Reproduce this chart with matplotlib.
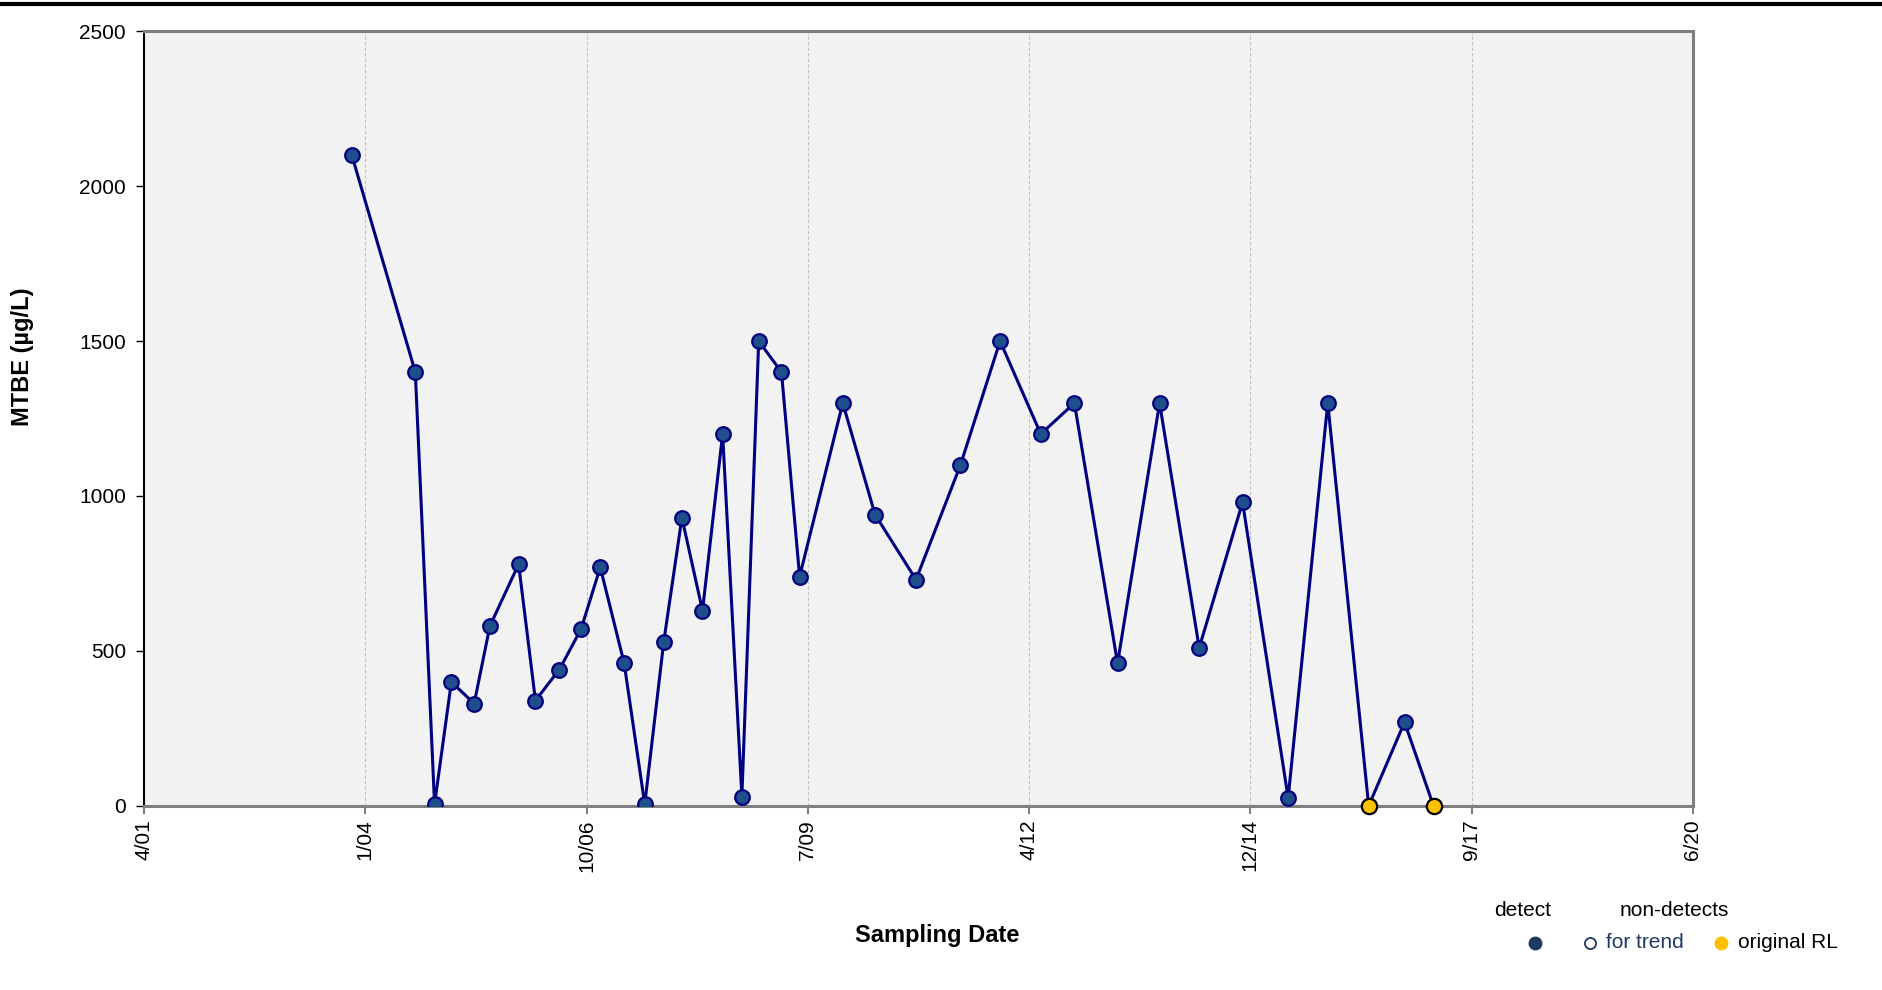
import matplotlib
matplotlib.use("Agg")
import matplotlib.pyplot as plt
import matplotlib.dates as mdates
import numpy as np
from matplotlib.lines import Line2D

plt.rcParams['font.family'] = ['Liberation Sans', 'DejaVu Sans']

# sampling dates and MTBE results (ug/L)
detect_dates = ["2003-11-16", "2004-08-29", "2004-11-24", "2005-02-08", "2005-05-22",
                "2005-08-01", "2005-12-09", "2006-02-23", "2006-06-11", "2006-09-17",
                "2006-12-13", "2007-03-31", "2007-07-02", "2007-09-26", "2007-12-17",
                "2008-03-19", "2008-06-18", "2008-09-13", "2008-11-28", "2009-03-11",
                "2009-06-01", "2009-12-13", "2010-05-08", "2010-11-09", "2011-05-29",
                "2011-11-24", "2012-05-26", "2012-10-25", "2013-05-08", "2013-11-14",
                "2014-05-12", "2014-11-24", "2015-06-18", "2015-12-14", "2016-06-16",
                "2016-11-25", "2017-04-05"]
mtbe = [2100, 1400, 5, 400, 330, 580, 780, 340, 440, 570,
        770, 460, 5, 530, 930, 630, 1200, 30, 1500, 1400,
        740, 1300, 940, 730, 1100, 1500, 1200, 1300, 460, 1300,
        510, 980, 25, 1300, 0, 270, 0]
# non-detects plotted at original reporting limit
nd_dates = ["2016-06-16", "2017-04-05"]
nd_values = [0, 0]

axis_start = "2001-04-21"
tick_step_days = 1000
n_ticks = 8

x = mdates.datestr2num(detect_dates)
xnd = mdates.datestr2num(nd_dates)
x0 = mdates.datestr2num(axis_start)
ticks = x0 + tick_step_days * np.arange(n_ticks)

fig = plt.figure(figsize=(18.83, 9.90), dpi=100)
ax = fig.add_axes([0.0765, 0.186, 0.8225, 0.7825])
ax.set_facecolor("#f2f2f2")

# detects line and markers (non-detect points drawn on top)
det_mask = np.ones(len(x), dtype=bool)
for d in xnd:
    det_mask &= ~np.isclose(x, d)
ax.plot(x, mtbe, color="#000080", lw=2.2, zorder=3)
ax.plot(x[det_mask], np.array(mtbe)[det_mask], "o", ms=10.5, mfc="#1f4e8c",
        mec="#000080", mew=1.6, ls="none", zorder=4)
ax.plot(xnd, nd_values, "o", ms=11, mfc="#ffc000", mec="black", mew=1.6,
        ls="none", zorder=5, clip_on=False)

ax.set_xlim(ticks[0], ticks[-1])
ax.set_ylim(0, 2500)
ax.set_xticks(ticks)
ax.xaxis.set_major_formatter(mdates.DateFormatter("%-m/%y"))
ax.set_yticks(np.arange(0, 2501, 500))
ax.tick_params(axis="x", labelrotation=90, labelsize=15, color="#808080",
               length=6, width=1.5)
ax.tick_params(axis="y", labelsize=15, color="black", length=6, width=1, pad=7)
ax.grid(axis="x", color="#c0c0c0", ls=(0, (3, 2)), lw=0.8)
ax.set_axisbelow(True)

for side in ["top", "right", "bottom"]:
    ax.spines[side].set_color("#808080")
    ax.spines[side].set_linewidth(2.2)
ax.spines["left"].set_color("black")
ax.spines["left"].set_linewidth(1.5)

fig.text(0.012, 0.64, "MTBE (µg/L)", rotation=90, fontsize=17,
         fontweight="bold", ha="center", va="center")
fig.text(0.4975, 0.055, "Sampling Date", fontsize=17, fontweight="bold",
         ha="center", va="center")

# top border line
fig.add_artist(Line2D([0, 1], [0.996, 0.996], color="black", lw=3,
                      transform=fig.transFigure))

# legend
fig.text(0.8085, 0.08, "detect", fontsize=15, ha="center", va="center")
fig.text(0.889, 0.08, "non-detects", fontsize=15, ha="center", va="center")
fig.add_artist(Line2D([0.8152], [0.0475], marker="o", ms=9, mfc="#1f3864",
                      mec="#1f3864", transform=fig.transFigure))
fig.add_artist(Line2D([0.8445], [0.0475], marker="o", ms=8, mfc="white",
                      mec="#1f3864", mew=1.3, transform=fig.transFigure))
fig.text(0.853, 0.0475, "for trend", fontsize=15, color="#1f3864", va="center")
fig.add_artist(Line2D([0.914], [0.0475], marker="o", ms=9, mfc="#ffc000",
                      mec="#ffc000", transform=fig.transFigure))
fig.text(0.923, 0.0475, "original RL", fontsize=15, va="center")

fig.savefig("out.png", dpi=100)
